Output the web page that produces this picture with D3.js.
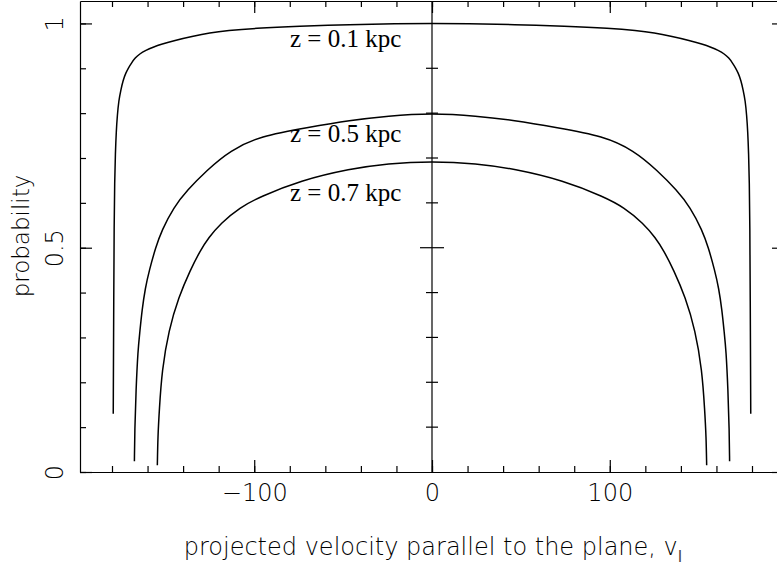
<!DOCTYPE html>
<html>
<head>
<meta charset="utf-8">
<script src="https://cdn.jsdelivr.net/npm/d3@7"></script>
<style>
  body { margin: 0; background: #fff; }
  .tick text { font-family: "DejaVu Sans", sans-serif; font-weight: 200; }
</style>
</head>
<body>
<div id="chart"></div>
<script>
// probability vs projected velocity, three heights above the plane

const W = 777, H = 569;
const mLeft = 80, mRight = 784, mTop = 1, mBottom = 472;

// z = 0.1 kpc
const v01 = [-179.3, -179.0, -178.8, -178.5, -178.1, -177.6, -177.0, -176.2, -175.0, -173.8, -172.2, -170.6, -169.0, -167.0, -164.5, -161.0, -157.0, -152.0, -145.0, -135.0, -125.0, -115.0, -100.0, -75.0, -46.0, -20.0, 0,
             20.0, 46.0, 75.0, 100.0, 115.0, 125.0, 135.0, 145.0, 152.0, 157.0, 161.0, 164.5, 167.0, 169.0, 170.6, 172.2, 173.8, 175.0, 176.2, 177.0, 177.6, 178.1, 178.5, 178.8, 179.0, 179.3];
const p01 = [0.13, 0.40, 0.55, 0.65, 0.71, 0.76, 0.795, 0.828, 0.852, 0.873, 0.89, 0.902, 0.912, 0.923, 0.932, 0.94, 0.947, 0.954, 0.962, 0.971, 0.979, 0.984, 0.989, 0.994, 0.9975, 0.9995, 1.0,
             0.9995, 0.9975, 0.994, 0.989, 0.984, 0.979, 0.971, 0.962, 0.954, 0.947, 0.94, 0.932, 0.923, 0.912, 0.902, 0.89, 0.873, 0.852, 0.828, 0.795, 0.76, 0.71, 0.65, 0.55, 0.40, 0.13];

// z = 0.5 kpc
const v05 = [-167.4, -167.2, -166.5, -165.4, -164.4, -163.1, -161.3, -159.0, -155.5, -152.0, -145.3, -137.8, -126.6, -113.5, -96.6, -70.0, -46.0, -25.0, 0,
             25.0, 46.0, 70.0, 96.6, 113.5, 126.6, 137.8, 145.3, 152.0, 155.5, 159.0, 161.3, 163.1, 164.4, 165.4, 166.5, 167.2, 167.4];
const p05 = [0.024, 0.094, 0.183, 0.272, 0.31, 0.361, 0.41, 0.45, 0.50, 0.539, 0.59, 0.628, 0.673, 0.717, 0.749, 0.768, 0.784, 0.794, 0.80,
             0.794, 0.784, 0.768, 0.749, 0.717, 0.673, 0.628, 0.59, 0.539, 0.50, 0.45, 0.41, 0.361, 0.31, 0.272, 0.183, 0.094, 0.024];

// z = 0.7 kpc
const v07 = [-154.5, -154.2, -153.4, -151.9, -148.1, -142.5, -136.0, -130.3, -125.7, -119.0, -108.0, -97.0, -74.0, -46.0, -25.0, 0,
             25.0, 46.0, 74.0, 97.0, 108.0, 119.0, 125.7, 130.3, 136.0, 142.5, 148.1, 151.9, 153.4, 154.2, 154.5];
const p07 = [0.015, 0.079, 0.138, 0.227, 0.316, 0.39, 0.45, 0.494, 0.522, 0.554, 0.59, 0.613, 0.65, 0.676, 0.688, 0.693,
             0.688, 0.676, 0.65, 0.613, 0.59, 0.554, 0.522, 0.494, 0.45, 0.39, 0.316, 0.227, 0.138, 0.079, 0.015];

const seriesLabels = ["z = 0.1 kpc", "z = 0.5 kpc", "z = 0.7 kpc"];
const xMinor = d3.range(-180, 181, 20);
const xMajor = [-100, 0, 100];
const yMinor = d3.range(0, 1.01, 0.1);
const yMajor = [0, 0.5, 1];

const x = d3.scaleLinear().domain([-198, 198]).range([mLeft, mRight]);
const y = d3.scaleLinear().domain([0, 1.05]).range([mBottom, mTop]);

const svg = d3.select("#chart").append("svg")
    .attr("width", W).attr("height", H)
    .style("font-family", "DejaVu Sans, sans-serif");

function styleAxis(g) {
    g.selectAll("path, line").attr("stroke", "#000").attr("stroke-width", 1.2);
    g.selectAll("text").attr("fill", "#000").style("font-size", "24px");
}

// bottom
svg.append("g").attr("transform", `translate(0,${mBottom})`)
    .call(d3.axisBottom(x).tickValues(xMinor).tickSizeInner(-6).tickSizeOuter(0).tickFormat(""))
    .call(styleAxis);
svg.append("g").attr("transform", `translate(0,${mBottom})`)
    .call(d3.axisBottom(x).tickValues(xMajor).tickSizeInner(-12).tickSizeOuter(0).tickPadding(12)
        .tickFormat(d => d < 0 ? "\u2212" + Math.abs(d) : d))
    .call(styleAxis)
    .call(g => g.select(".domain").remove());

// top
svg.append("g").attr("transform", `translate(0,${mTop})`)
    .call(d3.axisTop(x).tickValues(xMinor).tickSizeInner(-6).tickSizeOuter(0).tickFormat(""))
    .call(styleAxis);
svg.append("g").attr("transform", `translate(0,${mTop})`)
    .call(d3.axisTop(x).tickValues(xMajor).tickSizeInner(-12).tickSizeOuter(0).tickFormat(""))
    .call(styleAxis)
    .call(g => g.select(".domain").remove());

// left
svg.append("g").attr("transform", `translate(${mLeft},0)`)
    .call(d3.axisLeft(y).tickValues(yMinor).tickSizeInner(-6).tickSizeOuter(0).tickFormat(""))
    .call(styleAxis);
const yl = svg.append("g").attr("transform", `translate(${mLeft},0)`)
    .call(d3.axisLeft(y).tickValues(yMajor).tickSizeInner(-12).tickSizeOuter(0).tickFormat(d3.format("")))
    .call(styleAxis)
    .call(g => g.select(".domain").remove());
yl.selectAll(".tick text")
    .attr("x", null).attr("dy", null)
    .attr("text-anchor", "middle")
    .attr("transform", "translate(-17,0) rotate(-90)");

// right
svg.append("g").attr("transform", `translate(${mRight},0)`)
    .call(d3.axisRight(y).tickValues(yMinor).tickSizeInner(-6).tickSizeOuter(0).tickFormat(""))
    .call(styleAxis);
svg.append("g").attr("transform", `translate(${mRight},0)`)
    .call(d3.axisRight(y).tickValues(yMajor).tickSizeInner(-12).tickSizeOuter(0).tickFormat(""))
    .call(styleAxis)
    .call(g => g.select(".domain").remove());

// the v = 0 line with crossing ticks
const mid = svg.append("g");
mid.append("line")
    .attr("x1", x(0)).attr("x2", x(0)).attr("y1", y(0)).attr("y2", mTop)
    .attr("stroke", "#000").attr("stroke-width", 1.2);
mid.selectAll(".cross").data(yMinor.filter(d => d > 0.05 && d < 0.95)).join("line")
    .attr("x1", d => x(0) - (Math.abs(d - 0.5) < 1e-6 ? 12 : 6))
    .attr("x2", d => x(0) + (Math.abs(d - 0.5) < 1e-6 ? 12 : 6))
    .attr("y1", d => y(d)).attr("y2", d => y(d))
    .attr("stroke", "#000").attr("stroke-width", 1.2);

// curves
const line = d3.line().x(d => x(d[0])).y(d => y(d[1])).curve(d3.curveBasis);
const curves = [d3.zip(v01, p01), d3.zip(v05, p05), d3.zip(v07, p07)];
svg.selectAll(".curve").data(curves).join("path")
    .attr("class", "curve")
    .attr("d", line)
    .attr("fill", "none").attr("stroke", "#000").attr("stroke-width", 1.5);

// labels
const labelY = [47, 142, 201];
svg.selectAll(".zlab").data(seriesLabels).join("text")
    .attr("class", "zlab")
    .attr("x", 290).attr("y", (d, i) => labelY[i])
    .style("font-family", "Liberation Serif, serif")
    .style("font-size", "25px")
    .attr("fill", "#000")
    .text(d => d);

// axis titles
const xt = svg.append("text")
    .attr("x", 433).attr("y", 555)
    .attr("text-anchor", "middle")
    .style("font-size", "24px").style("font-weight", 200)
    .attr("fill", "#000");
xt.append("tspan").text("projected velocity parallel to the plane, v");
xt.append("tspan").attr("dy", 7).style("font-size", "16px").style("font-weight", 400).attr("fill", "#444").text("l");

svg.append("text")
    .attr("transform", `translate(29,236) rotate(-90)`)
    .attr("text-anchor", "middle")
    .style("font-size", "23px").style("font-weight", 200)
    .attr("fill", "#000")
    .text("probability");
</script>
</body>
</html>
